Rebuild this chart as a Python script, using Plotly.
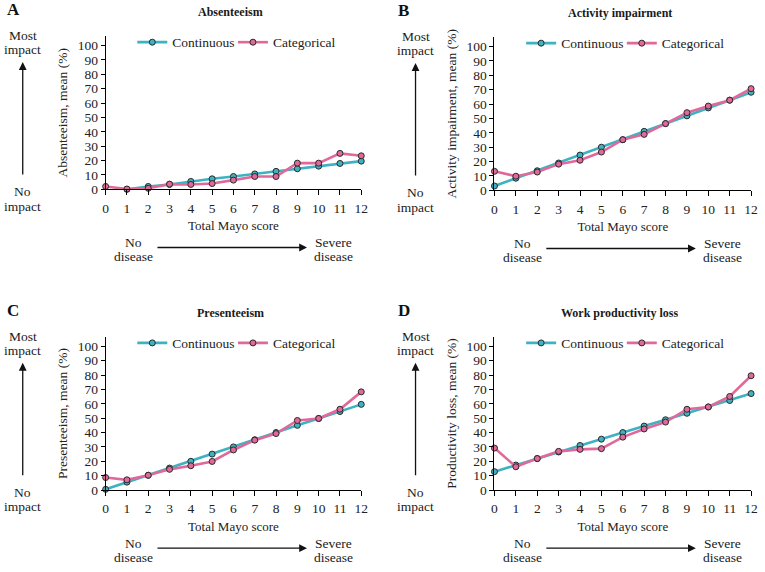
import plotly.graph_objects as go

W, H = 765, 572

mayo_score = list(range(13))

absent_cont = [-2, 0, 2, 3.4, 5.5, 7.3, 8.9, 10.7, 12.5, 14.3, 16.1, 18.0, 19.6]
absent_cat = [2.0, 0.2, 0.7, 3.6, 3.4, 4.0, 6.4, 8.9, 8.9, 18.2, 18.2, 25.0, 23.3]

activity_cont = [3.0, 8.4, 13.6, 19.0, 24.5, 30.0, 35.2, 41.0, 46.4, 51.8, 57.3, 62.7, 68.2]
activity_cat = [13.2, 9.8, 12.7, 18.2, 20.9, 26.6, 35.2, 38.9, 46.4, 54.0, 58.6, 62.7, 70.7]

present_cont = [0.5, 5.5, 10.3, 15.3, 20.0, 25.0, 30.0, 35.0, 40.0, 45.0, 49.8, 54.6, 59.6]
present_cat = [8.7, 7.1, 10.3, 14.4, 16.9, 19.9, 27.9, 34.7, 39.3, 48.4, 49.8, 56.2, 68.3]

wpl_cont = [12.8, 17.4, 21.9, 26.5, 31.0, 35.4, 40.0, 44.5, 48.9, 53.4, 57.8, 62.3, 67.1]
wpl_cat = [29.2, 16.2, 21.9, 26.9, 28.3, 28.8, 36.8, 42.5, 47.3, 56.2, 57.8, 65.1, 79.5]

y_ticks = list(range(0, 101, 10))

panels = [
    dict(letter="A", title="Absenteeism", ytitle="Absenteeism, mean (%)",
         cont=absent_cont, cat=absent_cat, x0=104, x1=363, y0=192),
    dict(letter="B", title="Activity impairment", ytitle="Activity impairment, mean (%)",
         cont=activity_cont, cat=activity_cat, x0=498, x1=758, y0=193),
    dict(letter="C", title="Presenteeism", ytitle="Presenteeism, mean (%)",
         cont=present_cont, cat=present_cat, x0=104, x1=363, y0=497),
    dict(letter="D", title="Work productivity loss", ytitle="Productivity loss, mean (%)",
         cont=wpl_cont, cat=wpl_cat, x0=498, x1=758, y0=497),
]

TEAL = "#3DB2C2"
PINK = "#E0699A"
FONT = "Liberation Serif"
PXU = 1.458  # px per unit on the y axis
YMAX = 106.5


def px(x):
    return x / W


def py(y):
    return 1 - y / H


def label(text, x, y, size=13.5, bold=False):
    t = "<b>" + text + "</b>" if bold else text
    return dict(text=t, x=px(x), y=py(y), xref="paper", yref="paper", showarrow=False,
                xanchor="center", yanchor="middle", font=dict(family=FONT, size=size, color="#1a1a1a"))


fig = go.Figure()
annotations = []
layout = {}

for i, p in enumerate(panels):
    n = "" if i == 0 else str(i + 1)
    xa, ya = "x" + n, "y" + n
    series = (("Continuous", p["cont"], TEAL, 27), ("Categorical", p["cat"], PINK, 129))
    for k, (name, vals, col, lx_off) in enumerate(series):
        idx = 2 * i + k + 1
        leg = "legend" if idx == 1 else "legend" + str(idx)
        fig.add_trace(go.Scatter(
            x=mayo_score, y=vals, name=name, mode="lines+markers",
            xaxis=xa, yaxis=ya, legend=leg, cliponaxis=False,
            line=dict(color=col, width=2.6),
            marker=dict(size=6, color=col, line=dict(color="#2a2a2a", width=1)),
        ))
        layout[leg] = dict(
            orientation="h", x=px(p["x0"] + lx_off), y=py(p["y0"] - 149), xanchor="left", yanchor="middle",
            font=dict(family=FONT, size=13.5, color="#222"), bgcolor="rgba(0,0,0,0)", itemwidth=30,
        )
    ytop = p["y0"] - YMAX * PXU
    layout["xaxis" + n] = dict(
        domain=[px(p["x0"]), px(p["x1"])], anchor=ya, range=[0, 12],
        tickvals=mayo_score, showline=True, linecolor="black", linewidth=1,
        ticks="outside", ticklen=5, tickcolor="black", showgrid=False, zeroline=False,
        ticklabelstandoff=1,
        tickfont=dict(family=FONT, size=13.5, color="#222"),
        title=dict(text="Total Mayo score", font=dict(family=FONT, size=13, color="#222"), standoff=6),
    )
    layout["yaxis" + n] = dict(
        domain=[py(p["y0"]), py(ytop)], anchor=xa, range=[0, YMAX],
        tickvals=y_ticks, showline=True, linecolor="black", linewidth=1,
        ticks="outside", ticklen=4, tickcolor="black", showgrid=False, zeroline=False,
        tickfont=dict(family=FONT, size=13.5, color="#222"),
        title=dict(text=p["ytitle"], font=dict(family=FONT, size=13.5, color="#222"), standoff=6),
    )

    off_y = p["y0"] - 192
    off_x = p["x0"] - 104
    lx = 20 if i % 2 == 0 else 418
    letter_x = 2 if i % 2 == 0 else 398
    annotations.append(dict(text="<b>" + p["letter"] + "</b>", x=px(letter_x),
                            y=py(10 + off_y), xref="paper", yref="paper", showarrow=False,
                            xanchor="left", yanchor="middle", font=dict(family=FONT, size=17, color="#111")))
    annotations.append(label(p["title"], (p["x0"] + p["x1"]) / 2 - 3, 12 + off_y, size=12, bold=True))
    annotations.append(label("Most", lx, 36 + off_y))
    annotations.append(label("impact", lx, 50 + off_y))
    annotations.append(label("No", lx, 194 + off_y))
    annotations.append(label("impact", lx, 209 + off_y))
    annotations.append(dict(text="", x=px(lx), y=py(63 + off_y), ax=0, ay=114,
                            xref="paper", yref="paper", axref="pixel", ayref="pixel",
                            showarrow=True, arrowhead=2, arrowsize=1.2, arrowwidth=1.3, arrowcolor="#111"))
    annotations.append(label("No", 132 + off_x, 246 + off_y))
    annotations.append(label("disease", 132 + off_x, 260 + off_y))
    annotations.append(label("Severe", 335 + off_x, 246 + off_y))
    annotations.append(label("disease", 335 + off_x, 260 + off_y))
    annotations.append(dict(text="", x=px(308 + off_x), y=py(251 + off_y), ax=-151, ay=0,
                            xref="paper", yref="paper", axref="pixel", ayref="pixel",
                            showarrow=True, arrowhead=2, arrowsize=1.2, arrowwidth=1.3, arrowcolor="#111"))

fig.update_layout(
    width=W, height=H, margin=dict(l=0, r=0, t=0, b=0),
    paper_bgcolor="white", plot_bgcolor="white", showlegend=True,
    annotations=annotations, **layout,
)

fig.write_html("out.html", config={"displayModeBar": False},
               post_script="document.body.style.margin='0px';")
